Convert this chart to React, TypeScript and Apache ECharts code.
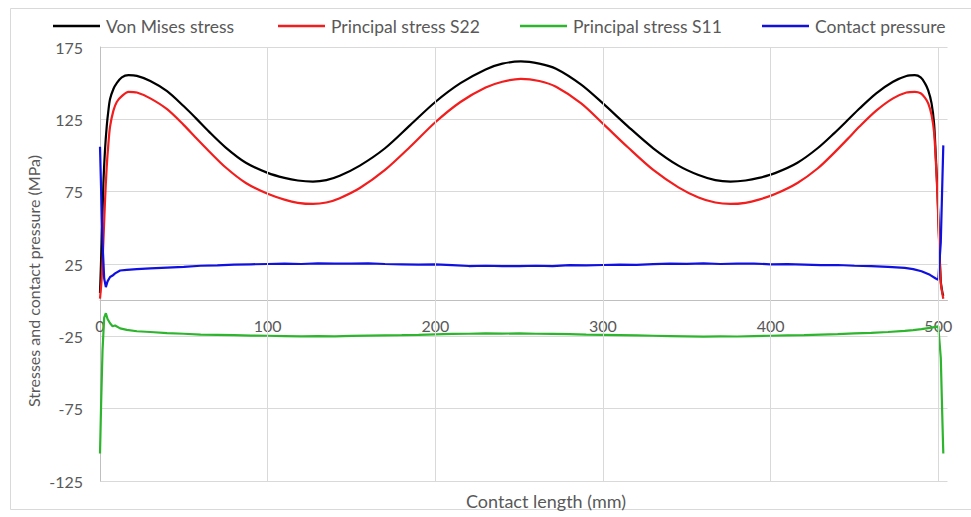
import React, { useEffect, useRef } from "react";
import * as echarts from "echarts";

const seriesNames = ["Von Mises stress", "Principal stress S22", "Principal stress S11", "Contact pressure"];
const seriesColors = ["#000000", "#f21d1d", "#2db52d", "#1010e0"];
const seriesSmooth = [0.3, 0.3, false, false];

const xStress = [0, 1, 2, 3, 4, 5, 6, 8, 10, 13, 17, 22, 30, 40, 50, 57, 65, 75, 87, 100, 110, 118, 127, 135, 143, 155, 170, 185, 200, 215, 230, 240, 251, 262, 272, 287, 300, 315, 330, 345, 357, 367, 376, 385, 393, 403, 416, 428, 438, 446, 453, 463, 473, 481, 486, 489.5, 492, 494, 496, 497.5, 498.5, 499.5, 500.5, 501.5, 502.5, 503];
const vonMises = [5, 40, 80, 104, 120, 131, 139, 146, 150, 154, 155.5, 155, 151.5, 144.5, 134, 126, 116.5, 105.5, 95, 88, 84.5, 82.7, 82, 83, 86, 93, 105, 121, 137, 150, 159.5, 163.5, 165, 163.5, 160, 149, 136, 120, 105, 93, 86.5, 83, 82, 82.7, 84.5, 88, 95, 105, 115.5, 124.5, 132.5, 143, 151, 155, 155.5, 154, 150, 145, 136, 122, 100, 75, 42, 13, 5, 3];
const s22 = [1, 15, 40, 69, 92, 108, 120, 131, 137, 141, 144, 143.5, 139.5, 132, 121, 112.5, 103, 91.7, 81, 73.5, 69.5, 67.3, 66.5, 67.5, 70.5, 77.5, 90, 106, 123, 137, 147, 151, 153, 151.5, 147.5, 136, 122, 105.5, 90, 78, 71, 67.5, 66.5, 67.3, 69.5, 73.5, 81, 91, 102, 111.5, 120, 131, 139.5, 143.5, 144, 143, 140, 136, 128, 116, 97, 73, 40, 12, 4, 1];

const xContact = [0, 0.7, 1.5, 2.5, 3.5, 4.5, 6, 7.5, 9, 12, 16, 22, 30, 40, 50, 60, 70, 80, 90, 100, 110, 120, 130, 140, 150, 160, 170, 180, 190, 200, 210, 220, 230, 240, 250, 260, 270, 280, 290, 300, 310, 320, 330, 340, 350, 360, 370, 380, 390, 400, 410, 420, 430, 440, 450, 460, 470, 480, 485, 490, 495, 498.5, 500, 501.5, 502.5, 503];
const contactPressure = [106, 75, 40, 15, 9, 13, 16, 17, 18.5, 20.5, 21, 21.5, 22, 22.5, 23, 23.8, 24, 24.6, 24.8, 25, 25.2, 25, 25.5, 25.3, 25.2, 25.5, 25, 24.8, 24.6, 24.8, 24.2, 23.6, 23.8, 23.5, 23.6, 23.8, 23.5, 24.2, 24, 24.3, 24.6, 24.4, 24.9, 25.2, 25.1, 25.4, 25, 25.2, 25.3, 24.8, 24.9, 24.6, 24.2, 24.3, 23.8, 23.5, 23, 22.3, 21.5, 20, 17.5, 15, 14, 40, 85, 107];
const s11 = [-106, -70, -35, -12, -9, -13, -16, -18, -17.5, -19.5, -20.5, -21.5, -22, -22.8, -23.2, -23.8, -24, -24.2, -24.5, -24.6, -24.8, -25, -24.8, -25, -24.7, -24.5, -24.3, -24.2, -24, -23.6, -23.3, -23.2, -23, -23.1, -23, -23.2, -23.3, -23.5, -23.8, -24, -24.2, -24.4, -24.6, -24.8, -25, -25.2, -25, -25.1, -24.8, -24.6, -24.4, -24.2, -23.8, -23.5, -23, -22.6, -22, -21.2, -20.7, -20, -19.2, -18.5, -18, -40, -85, -106];

const xGridTicks = [100, 200, 300, 400, 500];
const legendLeft = [53, 278, 520, 762];

const FONT = "Lato, 'Noto Sans', sans-serif";
const GRID_COLOR = "#d9d9d9";
const TEXT_COLOR = "#595959";

const GRID_TOP = 47;
const GRID_BOTTOM_PX = 481;
const Y_MIN = -125;
const Y_MAX = 175;

function pairs(xs: number[], ys: number[]) {
  return xs.map((x, i) => [x, ys[i]]);
}

export default function App() {
  const ref = useRef<HTMLDivElement>(null);
  useEffect(() => {
    if (!ref.current) return;
    const chart = echarts.init(ref.current, undefined, { renderer: "svg" });
    const seriesData = [
      pairs(xStress, vonMises),
      pairs(xStress, s22),
      pairs(xContact, s11),
      pairs(xContact, contactPressure),
    ];
    const plotH = GRID_BOTTOM_PX - GRID_TOP;
    const zeroOffset = ((0 - Y_MIN) / (Y_MAX - Y_MIN)) * plotH;
    chart.setOption({
      animation: false,
      backgroundColor: "#ffffff",
      textStyle: { fontFamily: FONT },
      grid: { left: 100, right: 23.5, top: GRID_TOP, bottom: 517 - GRID_BOTTOM_PX, containLabel: false },
      legend: seriesNames.map((name, i) => ({
        data: [name],
        left: legendLeft[i],
        top: 17,
        padding: 0,
        icon: "rect",
        itemWidth: 47,
        itemHeight: 2.5,
        itemGap: 0,
        textStyle: { color: TEXT_COLOR, fontSize: 17.5, fontFamily: FONT, padding: [0, 0, 0, 1] },
        selectedMode: false,
      })),
      xAxis: {
        type: "value",
        min: 0,
        max: 505.5,
        interval: 100,
        offset: -zeroOffset,
        axisLine: { onZero: false, lineStyle: { color: "#bfbfbf", width: 1 } },
        axisTick: { show: false },
        splitLine: { show: false },
        axisLabel: {
          color: TEXT_COLOR,
          fontSize: 16,
          fontFamily: FONT,
          margin: 17,
          showMaxLabel: false,
          formatter: (v: number) => (v % 100 === 0 ? String(v) : ""),
        },
      },
      yAxis: {
        type: "value",
        min: Y_MIN,
        max: Y_MAX,
        interval: 50,
        axisLine: { show: true, lineStyle: { color: "#bfbfbf", width: 1 } },
        axisTick: { show: false },
        splitLine: { show: true, lineStyle: { color: GRID_COLOR, width: 1 } },
        axisLabel: { color: TEXT_COLOR, fontSize: 16, fontFamily: FONT, margin: 17 },
      },
      graphic: [
        {
          type: "rect",
          shape: { x: 10.5, y: 8.5, width: 975, height: 501 },
          style: { fill: "none", stroke: "#d9d9d9", lineWidth: 1 },
          silent: true,
          z: -10,
        },
        {
          type: "text",
          x: 546,
          y: 501,
          style: {
            text: "Contact length (mm)",
            fill: TEXT_COLOR,
            font: `18px ${FONT}`,
            textAlign: "center",
            textVerticalAlign: "middle",
          },
        },
        {
          type: "text",
          x: 33,
          y: 281,
          rotation: Math.PI / 2,
          style: {
            text: "Stresses and contact pressure (MPa)",
            fill: TEXT_COLOR,
            font: `16px ${FONT}`,
            textAlign: "center",
            textVerticalAlign: "middle",
          },
        },
      ],
      series: [
        {
          name: "gridlines",
          type: "line",
          data: [[0, 0]],
          showSymbol: false,
          lineStyle: { width: 0, opacity: 0 },
          z: 1,
          silent: true,
          markLine: {
            silent: true,
            symbol: ["none", "none"],
            label: { show: false },
            lineStyle: { color: GRID_COLOR, width: 1, type: "solid" },
            data: xGridTicks.map((v) => ({ xAxis: v })),
          },
        },
        ...seriesNames.map((name, i) => ({
          name,
          type: "line",
          data: seriesData[i],
          showSymbol: false,
          symbol: "none",
          smooth: seriesSmooth[i],
          color: seriesColors[i],
          lineStyle: { color: seriesColors[i], width: 2.2 },
          z: 3,
        })),
      ],
    });
    return () => chart.dispose();
  }, []);
  return (
    <div
      ref={ref}
      style={{ position: "fixed", left: 0, top: 0, width: 971, height: 517, background: "#fff" }}
    />
  );
}
